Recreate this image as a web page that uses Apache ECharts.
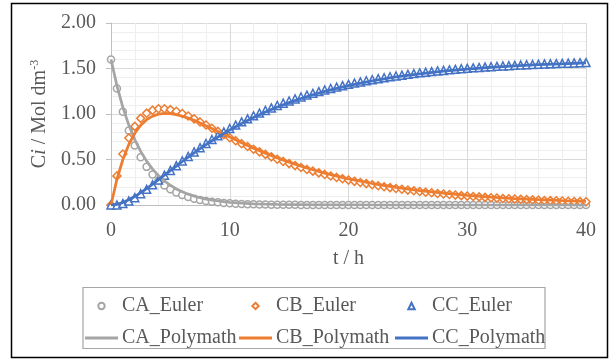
<!DOCTYPE html>
<html>
<head>
<meta charset="utf-8">
<script src="https://cdn.jsdelivr.net/npm/echarts@6/dist/echarts.min.js"></script>
<style>
  html, body { margin: 0; padding: 0; background: #fff; }
  #chart { width: 611px; height: 360px; }
</style>
</head>
<body>
<div id="chart"></div>
<script>
// Euler points, step 0.5 h
const tEuler = [0, 0.5, 1, 1.5, 2, 2.5, 3, 3.5, 4, 4.5, 5, 5.5, 6, 6.5, 7, 7.5, 8, 8.5, 9, 9.5,
  10, 10.5, 11, 11.5, 12, 12.5, 13, 13.5, 14, 14.5, 15, 15.5, 16, 16.5, 17, 17.5, 18, 18.5, 19, 19.5,
  20, 20.5, 21, 21.5, 22, 22.5, 23, 23.5, 24, 24.5, 25, 25.5, 26, 26.5, 27, 27.5, 28, 28.5, 29, 29.5,
  30, 30.5, 31, 31.5, 32, 32.5, 33, 33.5, 34, 34.5, 35, 35.5, 36, 36.5, 37, 37.5, 38, 38.5, 39, 39.5, 40];
const caEuler = [1.600, 1.280, 1.024, 0.819, 0.655, 0.524, 0.419, 0.336, 0.268, 0.215,
  0.172, 0.137, 0.110, 0.088, 0.070, 0.056, 0.045, 0.036, 0.029, 0.023,
  0.018, 0.015, 0.012, 0.009, 0.008, 0.006, 0.005, 0.004, 0.003, 0.002,
  0.002, 0.002, 0.001, 0.001, 0.001, 0.001, 0.001, 0, 0, 0,
  0, 0, 0, 0, 0, 0, 0, 0, 0, 0,
  0, 0, 0, 0, 0, 0, 0, 0, 0, 0,
  0, 0, 0, 0, 0, 0, 0, 0, 0, 0,
  0, 0, 0, 0, 0, 0, 0, 0, 0, 0, 0];
const cbEuler = [0, 0.320, 0.560, 0.737, 0.864, 0.952, 1.009, 1.042, 1.057, 1.058,
  1.048, 1.030, 1.006, 0.978, 0.947, 0.913, 0.879, 0.844, 0.809, 0.774,
  0.740, 0.707, 0.674, 0.643, 0.613, 0.584, 0.556, 0.529, 0.503, 0.479,
  0.455, 0.433, 0.412, 0.391, 0.372, 0.353, 0.336, 0.319, 0.303, 0.288,
  0.274, 0.260, 0.247, 0.235, 0.223, 0.212, 0.201, 0.191, 0.182, 0.173,
  0.164, 0.156, 0.148, 0.141, 0.134, 0.127, 0.121, 0.115, 0.109, 0.103,
  0.098, 0.093, 0.089, 0.084, 0.080, 0.076, 0.072, 0.069, 0.065, 0.062,
  0.059, 0.056, 0.053, 0.050, 0.048, 0.046, 0.043, 0.041, 0.039, 0.037, 0.035];
const ccEuler = [0, 0, 0.016, 0.044, 0.081, 0.124, 0.172, 0.222, 0.274, 0.327,
  0.380, 0.432, 0.484, 0.534, 0.583, 0.630, 0.676, 0.720, 0.762, 0.803,
  0.841, 0.878, 0.914, 0.947, 0.980, 1.010, 1.039, 1.067, 1.094, 1.119,
  1.143, 1.166, 1.187, 1.208, 1.227, 1.246, 1.264, 1.280, 1.296, 1.311,
  1.326, 1.340, 1.353, 1.365, 1.377, 1.388, 1.398, 1.409, 1.418, 1.427,
  1.436, 1.444, 1.452, 1.459, 1.466, 1.473, 1.479, 1.485, 1.491, 1.497,
  1.502, 1.507, 1.511, 1.516, 1.520, 1.524, 1.528, 1.531, 1.535, 1.538,
  1.541, 1.544, 1.547, 1.550, 1.552, 1.554, 1.557, 1.559, 1.561, 1.563, 1.565];

// Polymath curves
const tPoly = [0, 0.5, 1, 1.5, 2, 2.5, 3, 3.5, 4, 4.5, 5, 5.5, 6, 6.5, 7, 7.5, 8, 8.5, 9, 9.5,
  10, 11, 12, 13, 14, 15, 16, 17, 18, 19, 20, 22, 24, 26, 28, 30, 32, 34, 36, 38, 40];
const caPoly = [1.600, 1.310, 1.073, 0.878, 0.719, 0.589, 0.482, 0.395, 0.323, 0.264,
  0.217, 0.177, 0.145, 0.119, 0.097, 0.080, 0.065, 0.053, 0.044, 0.036,
  0.029, 0.020, 0.013, 0.009, 0.006, 0.004, 0.003, 0.002, 0.001, 0.001,
  0.001, 0, 0, 0, 0, 0, 0, 0, 0, 0, 0];
const cbPoly = [0, 0.283, 0.500, 0.665, 0.788, 0.877, 0.938, 0.977, 0.999, 1.008,
  1.005, 0.994, 0.977, 0.955, 0.930, 0.902, 0.872, 0.841, 0.809, 0.777,
  0.746, 0.684, 0.625, 0.570, 0.518, 0.471, 0.427, 0.387, 0.351, 0.318,
  0.288, 0.236, 0.193, 0.158, 0.130, 0.106, 0.087, 0.071, 0.058, 0.048, 0.039];
const ccPoly = [0, 0.007, 0.027, 0.057, 0.093, 0.135, 0.180, 0.228, 0.278, 0.328,
  0.378, 0.428, 0.478, 0.526, 0.573, 0.619, 0.663, 0.706, 0.747, 0.787,
  0.825, 0.896, 0.962, 1.022, 1.076, 1.125, 1.170, 1.211, 1.248, 1.281,
  1.311, 1.364, 1.407, 1.442, 1.470, 1.494, 1.513, 1.529, 1.542, 1.552, 1.561];

const gray = '#A5A5A5', orange = '#ED7D31', blue = '#4472C4';
const font = '"Liberation Serif", "Times New Roman", serif';
const txt = '#595959';

function pairs(ts, vs) {
  return ts.map((t, i) => [t, vs[i]]);
}

function euler(name, vals, color, symbol, size) {
  return {
    name: name, type: 'line', data: pairs(tEuler, vals),
    symbol: symbol, symbolSize: size, showAllSymbol: true,
    lineStyle: { width: 0, opacity: 0 },
    itemStyle: { color: '#fff', borderColor: color, borderWidth: 1.5 },
    emphasis: { disabled: true }, z: 2
  };
}
function poly(name, vals, color) {
  return {
    name: name, type: 'line', data: pairs(tPoly, vals),
    symbol: 'none', lineStyle: { width: 2.75, color: color },
    itemStyle: { color: color }, emphasis: { disabled: true }, z: 3
  };
}

// one legend per entry so the columns line up like the original
function legendEntry(name, left, top, isLine, color) {
  const lg = {
    left: left, top: top, padding: 0, itemWidth: 33, selectedMode: false,
    textStyle: { fontFamily: font, fontSize: 20, color: txt, lineHeight: 20, padding: [0, 0, 0, -1] },
    data: [name]
  };
  if (isLine) {
    lg.itemHeight = 3;
    lg.data = [{ name: name, icon: 'rect', itemStyle: { color: color } }];
  } else {
    lg.itemHeight = 8;
  }
  return lg;
}

const chart = echarts.init(document.getElementById('chart'));

chart.setOption({
  animation: false,
  grid: { left: 111, right: 25, top: 23, bottom: 155 },
  xAxis: {
    type: 'value', min: 0, max: 40, interval: 10,
    name: 't / h', nameLocation: 'middle', nameGap: 44,
    nameTextStyle: { fontFamily: font, fontSize: 20, color: txt },
    axisLine: { lineStyle: { color: '#bfbfbf' } },
    axisTick: { show: false },
    axisLabel: { fontFamily: font, fontSize: 20, color: txt, margin: 16 },
    splitLine: { lineStyle: { color: '#d9d9d9' } },
    minorTick: { show: false, splitNumber: 5 },
    minorSplitLine: { show: true, lineStyle: { color: '#eeeeee' } }
  },
  yAxis: {
    type: 'value', min: 0, max: 2, interval: 0.5,
    name: '{n|C}{i|i}{n| / Mol dm}{s|-3}', nameLocation: 'middle', nameGap: 58, nameRotate: 90,
    nameTextStyle: {
      fontFamily: font, fontSize: 20, color: txt,
      rich: {
        n: { fontFamily: font, fontSize: 20, color: txt },
        i: { fontFamily: font, fontSize: 20, color: txt, fontStyle: 'italic' },
        s: { fontFamily: font, fontSize: 12, color: txt, padding: [0, 0, 10, 0] }
      }
    },
    axisLine: { show: true, lineStyle: { color: '#bfbfbf' } },
    axisTick: { show: true, length: 5, lineStyle: { color: '#bfbfbf' } },
    axisLabel: {
      fontFamily: font, fontSize: 20, color: txt, margin: 15,
      formatter: v => v.toFixed(2)
    },
    splitLine: { lineStyle: { color: '#d9d9d9' } },
    minorTick: { show: false, splitNumber: 5 },
    minorSplitLine: { show: true, lineStyle: { color: '#eeeeee' } }
  },
  legend: [
    legendEntry('CA_Euler', 85, 296, false),
    legendEntry('CB_Euler', 239, 296, false),
    legendEntry('CC_Euler', 395, 296, false),
    legendEntry('CA_Polymath', 85, 328, true, gray),
    legendEntry('CB_Polymath', 239, 328, true, orange),
    legendEntry('CC_Polymath', 395, 328, true, blue)
  ],
  graphic: [
    { type: 'rect', shape: { x: 11.5, y: 3.5, width: 596, height: 354 },
      style: { fill: 'none', stroke: '#000', lineWidth: 1.5 }, silent: true },
    { type: 'rect', shape: { x: 83, y: 287.5, width: 462, height: 61 },
      style: { fill: 'none', stroke: '#a6a6a6', lineWidth: 1.2 }, silent: true }
  ],
  series: [
    euler('CA_Euler', caEuler, gray, 'circle', 7),
    euler('CB_Euler', cbEuler, orange, 'diamond', 8),
    euler('CC_Euler', ccEuler, blue, 'triangle', 8),
    poly('CA_Polymath', caPoly, gray),
    poly('CB_Polymath', cbPoly, orange),
    poly('CC_Polymath', ccPoly, blue)
  ]
});
</script>
</body>
</html>
